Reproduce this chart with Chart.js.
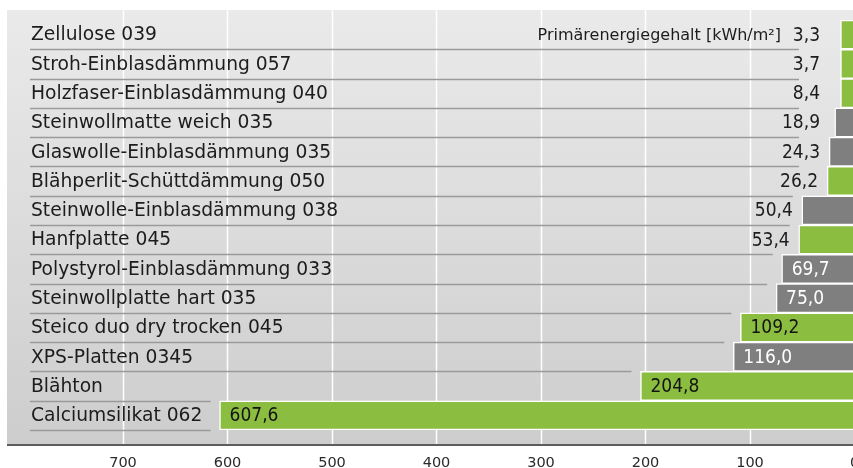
<!DOCTYPE html>
<html>
<head>
<meta charset="utf-8">
<script src="https://cdn.jsdelivr.net/npm/chart.js@4.4.1/dist/chart.umd.min.js"></script>
<style>
  html, body { margin: 0; padding: 0; overflow: hidden; background: #fff; }
  #wrap { width: 880px; height: 468px; position: relative; }
</style>
</head>
<body>
<div id="wrap"><canvas id="chart" width="880" height="468"></canvas></div>
<script>
// Materials, top to bottom
const materials = [
  'Zellulose 039',
  'Stroh-Einblasdämmung 057',
  'Holzfaser-Einblasdämmung 040',
  'Steinwollmatte weich 035',
  'Glaswolle-Einblasdämmung 035',
  'Blähperlit-Schüttdämmung 050',
  'Steinwolle-Einblasdämmung 038',
  'Hanfplatte 045',
  'Polystyrol-Einblasdämmung 033',
  'Steinwollplatte hart 035',
  'Steico duo dry trocken 045',
  'XPS-Platten 0345',
  'Blähton',
  'Calciumsilikat 062'
]
// Primärenergiegehalt [kWh/m²]
const energy = [3.3, 3.7, 8.4, 18.9, 24.3, 26.2, 50.4, 53.4, 69.7, 75.0, 109.2, 116.0, 204.8, 607.6]
// green = natural material, gray = conventional
const natural = [true, true, true, false, false, true, false, true, false, false, true, false, true, true]
const xTicks = [700, 600, 500, 400, 300, 200, 100, 0]
const unitLabel = 'Primärenergiegehalt [kWh/m²]'

const GREEN = '#8bbd40'
const GRAY = '#7f7f7f'
const SANS = '"DejaVu Sans", sans-serif'
const NARROW = '"DejaVu Sans Condensed", "DejaVu Sans", sans-serif'

const fmt = v => v.toFixed(1).replace('.', ',')

// Background, grid and row separators behind the bars; texts on top
const decor = {
  id: 'decor',
  beforeDatasetsDraw(chart) {
    const { ctx, scales: { x, y } } = chart
    const top = 10, bottom = 445, left = 7, right = chart.width
    ctx.save()
    const grad = ctx.createLinearGradient(0, top, 0, bottom)
    grad.addColorStop(0, '#eaeaea')
    grad.addColorStop(1, '#cdcdcd')
    ctx.fillStyle = grad
    ctx.fillRect(left, top, right - left, bottom - top)

    // vertical white grid
    ctx.strokeStyle = '#ffffff'
    ctx.lineWidth = 1.5
    xTicks.forEach(t => {
      const px = Math.round(x.getPixelForValue(t)) + 0.5
      ctx.beginPath()
      ctx.moveTo(px, top)
      ctx.lineTo(px, bottom)
      ctx.stroke()
    })

    // row separators, ending short of the next bar
    const bars = chart.getDatasetMeta(0).data
    const step = y.getPixelForValue(1) - y.getPixelForValue(0)
    ctx.strokeStyle = '#9a9a9a'
    ctx.lineWidth = 1.5
    materials.forEach((m, i) => {
      const next = bars[i + 1] || bars[i]
      const end = Math.min(799, Math.min(bars[i].x, next.x) - 9)
      const py = Math.round(y.getPixelForValue(i) + step / 2) + 0.5
      ctx.beginPath()
      ctx.moveTo(30, py)
      ctx.lineTo(end, py)
      ctx.stroke()
    })

    // bottom axis line
    ctx.strokeStyle = '#5c5c5c'
    ctx.lineWidth = 2
    ctx.beginPath()
    ctx.moveTo(left, bottom)
    ctx.lineTo(right, bottom)
    ctx.stroke()
    ctx.restore()
  },
  afterDatasetsDraw(chart) {
    const { ctx, scales: { y } } = chart
    const bars = chart.getDatasetMeta(0).data
    ctx.save()
    ctx.textBaseline = 'middle'
    materials.forEach((m, i) => {
      const cy = y.getPixelForValue(i) + 1
      ctx.font = '18.7px ' + SANS
      ctx.fillStyle = '#1c1c1c'
      ctx.textAlign = 'left'
      ctx.fillText(m, 31, cy)

      const bx = bars[i].x
      const v = energy[i]
      ctx.font = '19px ' + NARROW
      if (v > 60) {
        ctx.fillStyle = natural[i] ? '#141414' : '#ffffff'
        ctx.textAlign = 'left'
        ctx.fillText(fmt(v), bx + 10, cy)
      } else {
        const rx = Math.min(820, bx - 9)
        ctx.fillStyle = '#1c1c1c'
        ctx.textAlign = 'right'
        ctx.fillText(fmt(v), rx, cy)
        if (i === 0) {
          ctx.font = '16px ' + SANS
          ctx.fillText(unitLabel, 781, cy)
        }
      }
    })
    ctx.restore()
  }
}

new Chart(document.getElementById('chart'), {
  type: 'bar',
  data: {
    labels: materials,
    datasets: [{
      data: energy,
      backgroundColor: natural.map(n => n ? GREEN : GRAY),
      borderColor: '#ffffff',
      borderWidth: 1.5,
      borderSkipped: 'start',
      minBarLength: 14,
      barPercentage: 1,
      categoryPercentage: 1
    }]
  },
  options: {
    indexAxis: 'y',
    responsive: false,
    animation: false,
    layout: { padding: { left: 7, right: 25.5, top: 20, bottom: 0 } },
    plugins: { legend: { display: false }, tooltip: { enabled: false } },
    scales: {
      x: {
        type: 'linear',
        reverse: true,
        min: 0,
        max: 811,
        afterBuildTicks: s => { s.ticks = xTicks.map(v => ({ value: v })) },
        afterFit: s => { s.height = 38 },
        grid: { display: false },
        border: { display: false },
        ticks: {
          padding: 17,
          color: '#2a2a2a',
          font: { family: SANS, size: 14.5 },
          maxRotation: 0,
          autoSkip: false
        }
      },
      y: {
        display: false,
        offset: true
      }
    }
  },
  plugins: [decor]
})
</script>
</body>
</html>
